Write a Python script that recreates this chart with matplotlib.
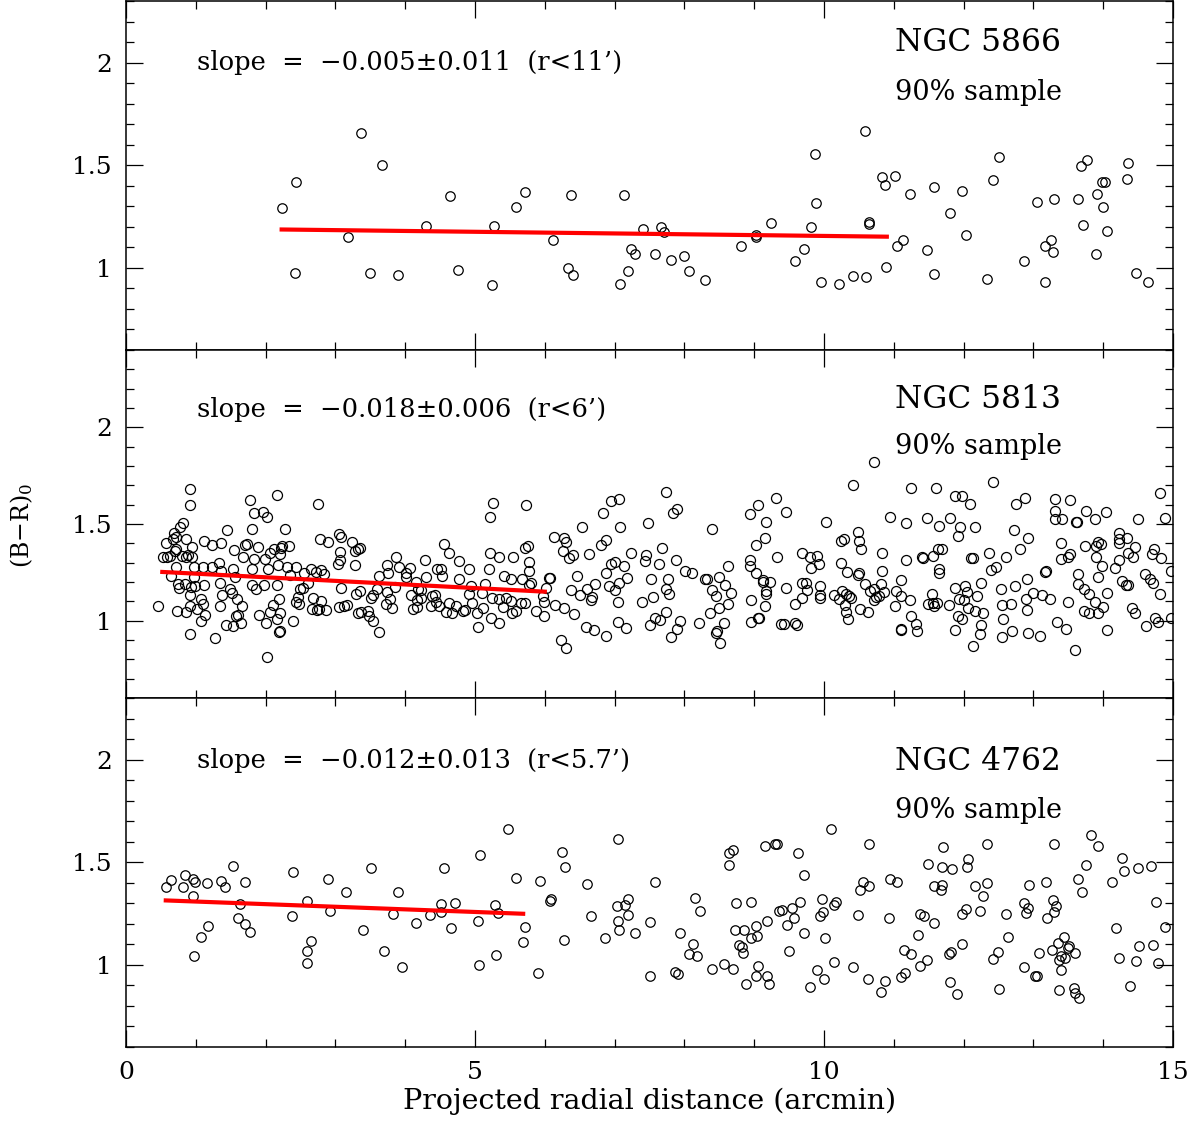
import matplotlib
matplotlib.use('Agg')
import matplotlib.pyplot as plt
import numpy as np
from matplotlib.ticker import MultipleLocator, FormatStrFormatter

plt.rcParams['font.family'] = 'DejaVu Serif'
plt.rcParams['mathtext.fontset'] = 'dejavuserif'

# ---- data ----
ngc5866_pts = [
    (2.23, 1.29), (2.44, 1.417), (2.42, 0.977), (3.18, 1.15), (3.36, 1.656), (3.50, 0.974),
    (3.67, 1.50), (3.89, 0.963), (4.30, 1.205), (4.64, 1.349), (4.75, 0.99), (5.25, 0.917),
    (5.27, 1.202), (5.59, 1.295), (5.71, 1.37), (6.12, 1.135), (6.33, 1.0), (6.37, 1.355),
    (6.41, 0.964), (7.08, 0.92), (7.13, 1.355), (7.19, 0.985), (7.24, 1.09), (7.29, 1.07),
    (7.40, 1.187), (7.58, 1.07), (7.67, 1.20), (7.71, 1.176), (7.81, 1.036), (8.00, 1.057),
    (8.06, 0.984), (8.30, 0.943), (8.81, 1.109), (9.02, 1.161), (9.03, 1.15), (9.24, 1.217),
    (9.58, 1.034), (9.71, 1.094), (9.82, 1.197), (9.87, 1.557), (9.89, 1.318), (9.95, 0.93),
    (10.22, 0.922), (10.42, 0.959), (10.59, 1.669), (10.60, 0.956), (10.64, 1.225), (10.65, 1.215),
    (10.83, 1.445), (10.88, 1.405), (10.89, 1.005), (11.02, 1.446), (11.04, 1.109), (11.13, 1.138),
    (11.23, 1.358), (11.48, 1.088), (11.57, 0.972), (11.57, 1.394), (11.81, 1.265), (11.98, 1.375),
    (12.03, 1.158), (12.34, 0.948), (12.42, 1.43), (12.51, 1.542), (12.87, 1.034), (13.05, 1.322),
    (13.17, 0.933), (13.17, 1.107), (13.25, 1.135), (13.28, 1.075), (13.30, 1.335), (13.64, 1.335),
    (13.68, 1.498), (13.71, 1.21), (13.77, 1.524), (13.89, 1.07), (13.91, 1.358), (13.98, 1.417),
    (13.99, 1.295), (14.03, 1.417), (14.06, 1.181), (14.34, 1.433), (14.35, 1.51), (14.47, 0.974),
    (14.64, 0.933),
]
ngc5866_fit_x = [2.23, 10.9]
ngc5866_fit_y = [1.187, 1.152]

ngc5813_pts = [
    (0.92, 1.68), (0.92, 1.60), (0.46, 1.078), (0.82, 1.503), (0.78, 1.483), (0.69, 1.455),
    (0.71, 1.433), (0.68, 1.42), (0.57, 1.403), (0.86, 1.424), (0.72, 1.369), (0.53, 1.328),
    (0.59, 1.331), (0.63, 1.334), (0.70, 1.359), (0.80, 1.334), (0.86, 1.328), (0.94, 1.381),
    (0.95, 1.331), (0.89, 1.338), (0.72, 1.276), (0.97, 1.279), (0.98, 1.224), (0.64, 1.231),
    (0.74, 1.188), (0.76, 1.171), (0.85, 1.188), (0.93, 1.176), (0.99, 1.179), (0.91, 1.131),
    (0.92, 1.076), (0.73, 1.048), (0.86, 1.045), (1.02, 1.059), (1.07, 1.110), (1.11, 1.084),
    (1.07, 0.998), (1.13, 1.029), (0.92, 0.929), (1.12, 1.186), (1.11, 1.276), (1.12, 1.412),
    (1.23, 1.393), (1.36, 1.403), (1.23, 1.279), (1.33, 1.30), (1.36, 1.259), (1.35, 1.197),
    (1.37, 1.131), (1.34, 1.076), (1.28, 0.912), (1.44, 1.467), (1.55, 1.366), (1.54, 1.266),
    (1.56, 1.226), (1.49, 1.166), (1.52, 1.145), (1.59, 1.114), (1.66, 1.076), (1.57, 1.024),
    (1.61, 1.031), (1.65, 0.990), (1.53, 0.972), (1.43, 0.979), (1.68, 1.331), (1.71, 1.390),
    (1.74, 1.395), (1.77, 1.626), (1.80, 1.472), (1.84, 1.555), (1.84, 1.321), (1.89, 1.383),
    (1.80, 1.266), (1.80, 1.186), (1.86, 1.162), (1.90, 1.031), (1.96, 1.562), (2.02, 1.536),
    (1.99, 1.317), (2.06, 1.352), (2.12, 1.369), (2.03, 1.266), (1.97, 1.183), (2.02, 0.814),
    (2.00, 0.990), (2.10, 1.083), (2.07, 1.045), (2.16, 1.652), (2.28, 1.476), (2.22, 1.376),
    (2.21, 1.343), (2.24, 1.386), (2.33, 1.386), (2.18, 1.286), (2.30, 1.279), (2.17, 1.183),
    (2.19, 1.110), (2.20, 1.038), (2.16, 1.010), (2.21, 0.947), (2.19, 0.941), (2.39, 0.998),
    (2.43, 1.279), (2.35, 1.234), (2.53, 1.171), (2.49, 1.162), (2.47, 1.124), (2.43, 1.097),
    (2.48, 1.086), (2.61, 1.197), (2.55, 1.248), (2.65, 1.266), (2.68, 1.119), (2.67, 1.059),
    (2.73, 1.053), (2.77, 1.059), (2.86, 1.055), (2.80, 1.102), (2.75, 1.603), (2.78, 1.424),
    (2.90, 1.407), (2.72, 1.252), (2.80, 1.260), (2.84, 1.24), (3.05, 1.447), (3.08, 1.431),
    (3.06, 1.355), (3.07, 1.314), (3.04, 1.291), (3.08, 1.171), (3.05, 1.072), (3.12, 1.076),
    (3.24, 1.407), (3.28, 1.36), (3.32, 1.369), (3.35, 1.374), (3.28, 1.286), (3.29, 1.136),
    (3.35, 1.153), (3.17, 1.08), (3.32, 1.038), (3.36, 1.045), (3.47, 1.05), (3.48, 1.024),
    (3.54, 0.998), (3.63, 0.943), (3.51, 1.119), (3.54, 1.131), (3.59, 1.166), (3.62, 1.231),
    (3.74, 1.286), (3.76, 1.248), (3.74, 1.148), (3.78, 1.114), (3.73, 1.084), (3.81, 1.067),
    (3.86, 1.176), (3.87, 1.331), (3.91, 1.279), (4.01, 1.248), (4.07, 1.274), (4.01, 1.228),
    (4.09, 1.131), (4.11, 1.059), (4.15, 1.20), (4.18, 1.166), (4.17, 1.107), (4.17, 1.072),
    (4.22, 1.119), (4.28, 1.314), (4.30, 1.228), (4.23, 1.159), (4.37, 1.076), (4.39, 1.128),
    (4.43, 1.131), (4.45, 1.266), (4.52, 1.266), (4.44, 1.097), (4.49, 1.076), (4.53, 1.231),
    (4.56, 1.395), (4.63, 1.352), (4.59, 1.045), (4.63, 1.093), (4.67, 1.041), (4.73, 1.076),
    (4.77, 1.309), (4.77, 1.217), (4.83, 1.05), (4.86, 1.055), (4.91, 1.266), (4.94, 1.179),
    (4.92, 1.136), (4.96, 1.093), (5.03, 1.038), (5.05, 0.969), (5.10, 1.141), (5.11, 1.067),
    (5.14, 1.188), (5.20, 1.266), (5.21, 1.352), (5.21, 1.538), (5.26, 1.607), (5.25, 1.119),
    (5.23, 1.016), (5.35, 1.331), (5.35, 1.110), (5.35, 0.986), (5.40, 1.072), (5.42, 1.231),
    (5.44, 1.119), (5.52, 1.214), (5.52, 1.102), (5.54, 1.331), (5.53, 1.038), (5.59, 1.05),
    (5.66, 1.093), (5.67, 1.214), (5.73, 1.597), (5.72, 1.378), (5.76, 1.386), (5.78, 1.303),
    (5.77, 1.257), (5.78, 1.183), (5.80, 1.197), (5.72, 1.093), (5.87, 1.05), (5.99, 1.024),
    (5.97, 1.128), (6.06, 1.222),
    (6.02, 1.171), (6.08, 1.222), (5.99, 1.097), (6.14, 1.079), (6.27, 1.064), (6.42, 1.034),
    (6.23, 0.90), (6.30, 0.857), (6.13, 1.433), (6.28, 1.426), (6.30, 1.407), (6.26, 1.359),
    (6.34, 1.326), (6.41, 1.338), (6.53, 1.486), (6.64, 1.343), (6.46, 1.231), (6.38, 1.159),
    (6.50, 1.133), (6.59, 0.967), (6.71, 0.952), (6.87, 0.921), (6.66, 1.107), (6.68, 1.124),
    (6.61, 1.162), (6.72, 1.191), (6.80, 1.39), (6.88, 1.416), (6.84, 1.559), (6.95, 1.619),
    (7.07, 1.631), (7.08, 1.484), (6.87, 1.248), (6.95, 1.291), (7.01, 1.303), (7.14, 1.283),
    (7.18, 1.219), (7.07, 1.193), (6.92, 1.179), (7.00, 1.159), (7.05, 1.098), (7.05, 0.993),
    (7.17, 0.964), (7.24, 1.348), (7.45, 1.338), (7.43, 1.309), (7.48, 1.503), (7.63, 1.295),
    (7.68, 1.376), (7.74, 1.667), (7.83, 1.559), (7.89, 1.579), (7.88, 1.314), (7.52, 1.214),
    (7.76, 1.217), (7.73, 1.162), (7.78, 1.136), (7.55, 1.124), (7.39, 1.098), (7.74, 1.045),
    (7.58, 1.016), (7.65, 1.003), (7.50, 0.978), (7.93, 0.998), (7.90, 0.955), (7.81, 0.917),
    (8.01, 1.257), (8.11, 1.245), (8.30, 1.217), (8.33, 1.214), (8.40, 1.476), (8.40, 1.159),
    (8.45, 1.128), (8.50, 1.228), (8.58, 1.183), (8.62, 1.283), (8.67, 1.141), (8.63, 1.084),
    (8.50, 1.067), (8.36, 1.041), (8.21, 0.986), (8.57, 0.990), (8.47, 0.947), (8.45, 0.938),
    (8.51, 0.886), (8.94, 1.55), (9.03, 1.39), (8.94, 1.312), (8.94, 1.283), (9.02, 1.248),
    (8.96, 1.107), (8.95, 0.993), (9.05, 1.598), (9.06, 1.016),
    (9.31, 1.633), (9.46, 1.562), (9.17, 1.51), (9.16, 1.428), (9.32, 1.331), (9.12, 1.21),
    (9.13, 1.20), (9.22, 1.20), (9.17, 1.153), (9.17, 1.14), (9.16, 1.076), (9.07, 1.012),
    (9.45, 1.167), (9.58, 1.088), (9.39, 0.981), (9.42, 0.984), (9.585, 0.986), (9.62, 0.978),
    (9.68, 1.348), (9.80, 1.331), (9.90, 1.334), (9.93, 1.295), (9.81, 1.274), (9.68, 1.119),
    (9.69, 1.193), (9.74, 1.193), (9.75, 1.157), (9.94, 1.179), (9.94, 1.131), (9.94, 1.119),
    (10.03, 1.512), (10.15, 1.131), (10.24, 1.412), (10.29, 1.424), (10.25, 1.297), (10.33, 1.252),
    (10.42, 1.702), (10.49, 1.46), (10.50, 1.412), (10.53, 1.369), (10.48, 1.234), (10.50, 1.245),
    (10.59, 1.188), (10.21, 1.114), (10.26, 1.153), (10.31, 1.14), (10.36, 1.128), (10.38, 1.119),
    (10.30, 1.083), (10.31, 1.045), (10.35, 1.007), (10.52, 1.062), (10.63, 1.045), (10.71, 1.821),
    (10.66, 1.153), (10.71, 1.166), (10.75, 1.124), (10.72, 1.105), (10.79, 1.128), (10.83, 1.348),
    (10.83, 1.257), (10.82, 1.191), (10.86, 1.148), (10.94, 1.534), (11.03, 1.153), (11.02, 1.076),
    (11.10, 1.209), (11.11, 1.128), (11.17, 1.507), (11.18, 1.312), (11.23, 1.105), (11.10, 0.959),
    (11.11, 0.95), (11.25, 1.686), (11.25, 1.024), (11.32, 0.981), (11.33, 0.947), (11.41, 1.331),
    (11.42, 1.324), (11.47, 1.529), (11.56, 1.334), (11.55, 1.136), (11.56, 1.093), (11.64, 1.369),
    (11.69, 1.369), (11.645, 1.266), (11.65, 1.245), (11.61, 1.684), (11.65, 1.49), (11.49, 1.086),
    (11.62, 1.093), (11.57, 1.076), (11.79, 1.081), (11.81, 1.533), (11.87, 0.952), (11.88, 1.645),
    (11.98, 1.645), (11.95, 1.486), (11.92, 1.438), (11.88, 1.167), (11.93, 1.114), (11.92, 1.024),
    (11.98, 1.007),
    (12.42, 1.719), (12.755, 1.605), (12.88, 1.633), (12.09, 1.602), (12.16, 1.486), (12.72, 1.469),
    (12.92, 1.429), (12.81, 1.372), (12.61, 1.329), (12.37, 1.352), (12.10, 1.326), (12.13, 1.322),
    (12.39, 1.262), (12.46, 1.278), (12.25, 1.193), (12.02, 1.18), (12.05, 1.148), (12.19, 1.128),
    (12.00, 1.105), (12.07, 1.067), (12.17, 1.05), (12.28, 1.038), (12.25, 0.978), (12.23, 0.929),
    (12.14, 0.869), (12.55, 0.916), (12.70, 0.948), (12.92, 0.938), (13.10, 0.921), (12.57, 1.007),
    (12.55, 1.081), (12.68, 1.088), (12.53, 1.162), (12.73, 1.179), (12.89, 1.110), (12.91, 1.053),
    (12.91, 1.217), (13.00, 1.141), (13.12, 1.133), (13.24, 1.114), (13.16, 1.252), (13.18, 1.257),
    (13.31, 1.628), (13.31, 1.567), (13.31, 1.524), (13.41, 1.524), (13.53, 1.624), (13.61, 1.510),
    (13.63, 1.510), (13.40, 1.40), (13.40, 1.317), (13.50, 1.329), (13.53, 1.343), (13.34, 0.993),
    (13.47, 0.959), (13.50, 1.097), (13.60, 0.848), (13.64, 1.24), (13.64, 1.188), (13.72, 1.166),
    (13.74, 1.386), (13.75, 1.567), (13.80, 1.136), (13.73, 1.048), (13.80, 1.041), (13.88, 1.528),
    (13.89, 1.331), (13.90, 1.386), (13.92, 1.407), (13.97, 1.398), (13.98, 1.283), (13.92, 1.228),
    (13.88, 1.097), (13.93, 1.041), (14.00, 1.071), (14.05, 0.952), (14.04, 1.562), (14.05, 1.145),
    (14.17, 1.271), (14.23, 1.312), (14.23, 1.452), (14.23, 1.424), (14.23, 1.403), (14.34, 1.429),
    (14.35, 1.348), (14.42, 1.331), (14.46, 1.381), (14.27, 1.205), (14.33, 1.184), (14.35, 1.183),
    (14.41, 1.064), (14.46, 1.041), (14.50, 1.528), (14.61, 0.972), (14.60, 1.24), (14.67, 1.217),
    (14.72, 1.197), (14.82, 1.140), (14.74, 1.016), (14.78, 0.993), (14.70, 1.343), (14.73, 1.369),
    (14.83, 1.322), (14.82, 1.659), (14.88, 1.533), (14.97, 1.257), (14.97, 1.016),
]
ngc5813_fit_x = [0.52, 6.0]
ngc5813_fit_y = [1.252, 1.150]

ngc4762_pts = [
    (0.57, 1.379), (0.64, 1.412), (0.81, 1.381), (0.85, 1.438), (0.96, 1.42), (0.99, 1.404),
    (0.96, 1.336), (0.98, 1.042), (1.08, 1.138), (1.18, 1.189), (1.16, 1.40), (1.36, 1.409),
    (1.42, 1.381), (1.54, 1.482), (1.63, 1.298), (1.61, 1.23), (1.70, 1.199), (1.77, 1.16),
    (1.70, 1.406), (2.39, 1.453), (2.38, 1.238), (2.60, 1.311), (2.65, 1.114), (2.60, 1.067),
    (2.59, 1.01), (2.90, 1.417), (2.92, 1.262), (3.15, 1.357), (3.40, 1.169), (3.51, 1.474),
    (3.69, 1.068), (3.83, 1.246), (3.90, 1.357), (3.96, 0.992), (4.16, 1.205), (4.35, 1.241),
    (4.51, 1.257), (4.52, 1.298), (4.55, 1.474), (4.65, 1.178), (4.72, 1.301), (5.04, 1.212),
    (5.06, 0.998), (5.07, 1.536), (5.29, 1.292), (5.33, 1.252), (5.30, 1.047), (5.47, 1.664),
    (5.59, 1.422), (5.69, 1.111), (5.72, 1.186), (5.90, 0.961), (5.93, 1.409), (6.07, 1.309),
    (6.09, 1.319), (6.24, 1.55), (6.29, 1.479), (6.28, 1.119), (6.61, 1.393), (6.66, 1.239),
    (6.86, 1.132), (7.05, 1.612), (7.04, 1.287), (7.05, 1.215), (7.07, 1.169), (7.15, 1.29),
    (7.19, 1.319), (7.19, 1.244), (7.29, 1.153), (7.50, 1.208), (7.51, 0.948), (7.58, 1.404),
    (7.86, 0.965), (7.91, 0.955), (7.93, 1.156), (8.07, 1.052), (8.13, 1.104), (8.18, 1.045),
    (8.15, 1.328), (8.22, 1.261), (8.39, 0.98), (8.57, 1.005), (8.64, 1.545), (8.69, 1.559),
    (8.64, 1.487), (8.70, 0.98), (8.74, 1.303), (8.72, 1.172), (8.78, 1.097), (8.82, 1.089),
    (8.84, 1.057), (8.86, 1.172), (8.88, 0.905), (8.95, 1.306), (8.95, 1.130), (9.03, 1.191),
    (9.04, 1.139), (9.02, 0.946), (9.06, 0.993), (9.19, 0.946), (9.21, 0.906), (9.16, 1.579),
    (9.30, 1.589), (9.33, 1.589), (9.18, 1.216), (9.35, 1.261), (9.40, 1.269), (9.47, 1.194),
    (9.54, 1.278), (9.57, 1.227), (9.50, 1.067), (9.63, 1.545), (9.71, 1.44), (9.66, 1.306),
    (9.71, 1.157), (9.80, 0.893), (9.90, 0.977), (10.00, 0.931), (10.02, 1.130), (9.94, 1.236),
    (9.98, 1.256), (9.97, 1.319), (10.10, 1.66), (10.14, 1.013), (10.15, 1.291), (10.17, 1.308),
    (10.42, 0.99), (10.49, 1.244), (10.51, 1.365), (10.56, 1.406), (10.64, 1.386), (10.63, 0.93),
    (10.64, 1.587), (10.82, 0.868), (10.88, 0.92), (10.93, 1.227), (10.95, 1.416), (11.04, 1.403),
    (11.10, 0.943), (11.16, 0.96), (11.14, 1.074), (11.24, 1.052), (11.34, 1.147), (11.37, 0.993),
    (11.48, 1.023), (11.38, 1.249), (11.43, 1.239), (11.58, 1.202), (11.49, 1.492), (11.69, 1.478),
    (11.70, 1.574), (11.83, 1.468), (11.57, 1.385), (11.69, 1.391), (11.68, 1.366), (11.79, 1.052),
    (11.82, 1.065), (11.80, 0.915), (11.90, 0.86), (11.97, 1.102), (11.97, 1.247), (12.03, 1.274),
    (12.05, 1.475), (12.06, 1.515), (12.17, 1.386), (12.24, 1.264), (12.28, 1.336), (12.34, 1.587),
    (12.34, 1.40), (12.42, 1.027), (12.49, 1.064), (12.50, 0.883), (12.61, 1.247), (12.64, 1.137),
    (12.87, 1.303), (12.89, 1.253), (12.92, 1.278), (12.87, 0.99), (12.94, 1.391), (13.02, 0.946),
    (13.05, 0.946), (13.08, 1.060), (13.18, 1.405), (13.19, 1.229), (13.26, 1.074), (13.28, 1.316),
    (13.29, 1.59), (13.29, 1.256), (13.33, 1.286), (13.35, 1.107), (13.39, 1.043), (13.37, 1.022),
    (13.39, 0.973), (13.44, 1.135), (13.50, 1.080), (13.51, 1.09), (13.37, 0.876), (13.58, 0.888),
    (13.60, 0.863), (13.66, 0.839), (13.59, 1.057), (13.45, 1.035), (13.64, 1.416), (13.70, 1.353),
    (13.75, 1.487), (13.83, 1.635), (13.92, 1.579), (14.12, 1.403), (14.18, 1.181), (14.22, 1.035),
    (14.27, 1.522), (14.30, 1.458), (14.39, 0.896), (14.47, 1.017), (14.50, 1.47), (14.51, 1.09),
    (14.68, 1.482), (14.71, 1.097), (14.75, 1.304), (14.78, 1.007), (14.89, 1.186),
]
ngc4762_fit_x = [0.57, 5.69]
ngc4762_fit_y = [1.314, 1.249]

names = ['NGC 5866', 'NGC 5813', 'NGC 4762']
slopes = ['slope  =  \u22120.005\u00b10.011  (r<11\u2019)',
          'slope  =  \u22120.018\u00b10.006  (r<6\u2019)',
          'slope  =  \u22120.012\u00b10.013  (r<5.7\u2019)']
sample_label = '90% sample'

# ---- layout (pixels of the 1197x1127 canvas) ----
W, H = 1197, 1127
fig = plt.figure(figsize=(W / 100, H / 100), dpi=100)
left, right = 126, 1173
rows = [(1, 350), (350, 698), (698, 1047)]
ylims = [(0.6, 2.3), (0.6, 2.4), (0.6, 2.3)]
pts_all = [ngc5866_pts, ngc5813_pts, ngc4762_pts]
fits = [(ngc5866_fit_x, ngc5866_fit_y), (ngc5813_fit_x, ngc5813_fit_y),
        (ngc4762_fit_x, ngc4762_fit_y)]
msizes = [6.8, 7.2, 6.8]
# text anchor positions in axes fraction: (slope y, name y, sample y)
text_y = [(0.825, 0.88, 0.739), (0.830, 0.859, 0.724), (0.822, 0.819, 0.679)]

for i, (top, bot) in enumerate(rows):
    ax = fig.add_axes([left / W, 1 - bot / H, (right - left) / W, (bot - top) / H])
    p = np.array(pts_all[i])
    ax.plot(p[:, 0], p[:, 1], 'o', mfc='none', mec='black', ms=msizes[i], mew=0.9,
            linestyle='none', zorder=2)
    ax.plot(fits[i][0], fits[i][1], color='red', lw=3, zorder=3)
    ax.set_xlim(0, 15)
    ax.set_ylim(*ylims[i])
    ax.xaxis.set_major_locator(MultipleLocator(5))
    ax.xaxis.set_minor_locator(MultipleLocator(1))
    ax.yaxis.set_major_locator(MultipleLocator(0.5))
    ax.yaxis.set_minor_locator(MultipleLocator(0.1))
    ax.yaxis.set_major_formatter(FormatStrFormatter('%g'))
    ax.tick_params(which='both', direction='in', top=True, right=True, width=0.9,
                   labelsize=18)
    ax.tick_params(which='major', length=12, pad=10)
    ax.tick_params(which='minor', length=6)
    for s in ax.spines.values():
        s.set_linewidth(1.1)
    if i < 2:
        ax.tick_params(labelbottom=False)
    else:
        ax.set_xlabel('Projected radial distance (arcmin)', fontsize=20.5, labelpad=3)
        ax.xaxis.set_major_formatter(FormatStrFormatter('%g'))
    sy, ny, py_ = text_y[i]
    ax.text(0.0678, sy, slopes[i], transform=ax.transAxes, fontsize=18.5, va='center')
    ax.text(0.7345, ny, names[i], transform=ax.transAxes, fontsize=22.5, va='center')
    ax.text(0.7345, py_, sample_label, transform=ax.transAxes, fontsize=19.5, va='center')

fig.text(22 / W, 1 - 525 / H, '(B$-$R)$_0$', rotation=90, fontsize=17,
         ha='center', va='center')

fig.savefig('out.png', dpi=100)
